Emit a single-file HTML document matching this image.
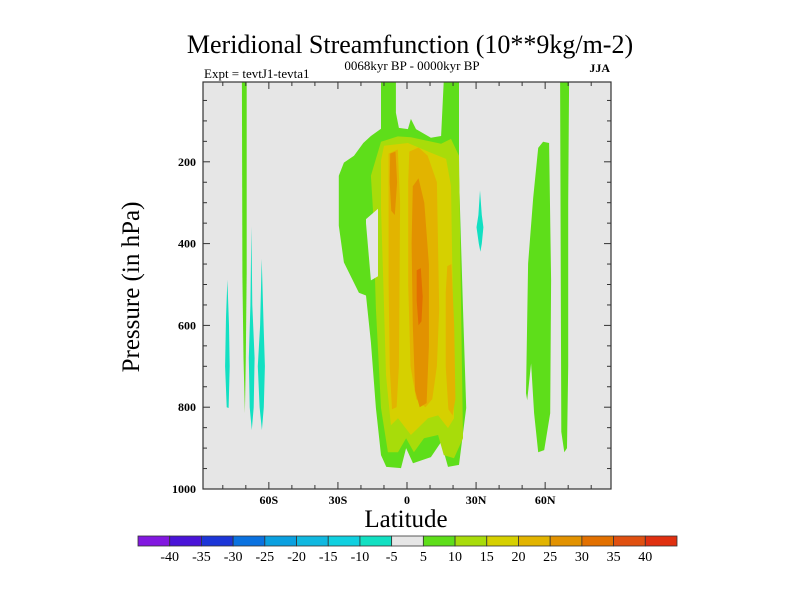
<!DOCTYPE html>
<html><head><meta charset="utf-8"><style>
html,body{margin:0;padding:0;background:#fff;}
svg{display:block;font-family:"Liberation Serif",serif;}
</style></head><body>
<svg id="chart" width="800" height="600" viewBox="0 0 800 600" xmlns="http://www.w3.org/2000/svg">
<defs><clipPath id="plotclip"><rect x="203" y="82" width="408" height="407"/></clipPath></defs>
<text x="410" y="53" font-size="26" text-anchor="middle">Meridional Streamfunction (10**9kg/m-2)</text>
<text x="412" y="70" font-size="13" text-anchor="middle">0068kyr BP - 0000kyr BP</text>
<text x="204" y="78" font-size="13">Expt = tevtJ1-tevta1</text>
<text x="610" y="72" font-size="12" font-weight="bold" text-anchor="end">JJA</text>
<rect x="203" y="82" width="408" height="407" fill="#e6e6e6"/>
<g id="contours" clip-path="url(#plotclip)"></g>
<rect x="203" y="82" width="408" height="407" fill="none" stroke="#333" stroke-width="1.2"/>
<g id="axes"></g>
<text x="406" y="527" font-size="25" text-anchor="middle">Latitude</text>
<text transform="translate(139,287) rotate(-90)" font-size="25" text-anchor="middle">Pressure (in hPa)</text>
<g id="colorbar"></g>
</svg>
<script>
// ---- data ----
const latTicks = [-60, -30, 0, 30, 60];
const latTickLabels = ["60S", "30S", "0", "30N", "60N"];
const presTicks = [200, 400, 600, 800, 1000];
const levelBounds = [-40,-35,-30,-25,-20,-15,-10,-5,5,10,15,20,25,30,35,40];
const levelColors = ["#8218e0","#4a14d8","#1c36d8","#0a72e0","#0aa0e0","#10b8e0","#10d0e0","#12e0c2","#e6e6e6","#5ede1a","#a8dc0a","#d6d000","#e2b400","#e29200","#e27000","#e05010","#e03010"];
// contour regions: value level (0 = background hole) and outline in (latitude, pressure hPa)
const regionLevels = [5, -9, 10, 15, 20, 20, 20, 25, 25, 30, 5, 5, 5, -9, -9, -9, 0];
const regionPaths = [
 [[-11.3,0],[-11.3,119],[-15.7,137],[-19,154],[-23,185],[-27.4,202],[-29.6,234],[-29.6,356],[-27.4,446],[-20.9,520],[-17.8,527],[-15.7,641],[-13.5,802],[-11.3,917],[-9,946],[-2.6,949],[-0.4,900],[2.6,937],[10.4,922],[14.8,885],[17.8,946],[22.6,941],[25.7,802],[24.3,559],[22.6,234],[22.6,0],[16,0],[14.8,137],[10.4,141],[3.9,120],[1.7,95],[0.4,120],[-3.5,117],[-4.8,80],[-4.8,0]],
 [[31.7,270],[32.5,330],[33.2,360],[32.5,400],[31.9,420],[31.2,400],[30.2,360],[31,330]],
 [[-11.3,151],[-4,138],[1.7,140],[14.8,156],[19.1,144],[22.6,185],[23.5,559],[24.3,876],[20.4,925],[16,917],[13.5,868],[7.4,876],[3,910],[-0.4,876],[-3.9,910],[-8.3,910],[-11.3,802],[-13.5,559],[-14.8,315],[-15.7,234]],
 [[-10,161],[0.4,154],[10.4,178],[17,193],[19.1,259],[20,559],[20.4,827],[17.8,851],[13.5,820],[9.1,827],[1.7,868],[-3.9,827],[-7,844],[-9.1,722],[-10.4,478],[-11.3,315],[-11.3,197]],
 [[-8,180],[-4,170],[-3,300],[-3.5,700],[-4.5,800],[-6.5,805],[-7.5,700],[-8,500]],
 [[1,175],[5,165],[9,185],[13,250],[14,560],[13,700],[11,780],[8,800],[4,780],[1.5,700],[0.5,500],[0.5,250]],
 [[17.5,455],[19.3,450],[20.5,600],[21,780],[19.8,820],[18,805],[16.8,700],[16.8,520]],
 [[2.5,260],[5,240],[7.5,300],[9.5,450],[9.5,650],[8.5,790],[5.5,800],[3.5,760],[2.5,600],[2,400]],
 [[-7.3,180],[-5,175],[-4.3,250],[-5.3,330],[-6.8,320],[-7.5,250]],
 [[4.2,465],[6,460],[6.8,530],[6.3,590],[5,600],[4.2,540]],
 [[-71.7,0],[-69.6,0],[-69.6,470],[-70,680],[-70.4,815],[-71,680],[-71.5,480]],
 [[57,166],[59.1,151],[61.7,154],[62.6,490],[62.2,815],[59.6,905],[57,910],[55.2,815],[53.9,693],[52.2,783],[51.7,766],[52.6,449],[54.8,288]],
 [[66.5,0],[70.4,0],[70,300],[70,700],[69.5,900],[68.3,910],[67,860],[66.8,500]],
 [[-78,488],[-77.3,600],[-77,700],[-77.5,802],[-78.3,800],[-79,700],[-78.6,580]],
 [[-67.6,358],[-67.2,550],[-66.2,680],[-66.6,800],[-67.4,856],[-68.3,800],[-68.7,680],[-68,550]],
 [[-63.1,437],[-62.3,600],[-61.7,700],[-62.2,800],[-63,856],[-64,800],[-64.8,700],[-63.8,600]],
 [[-17.8,340],[-12.6,315],[-12.6,480],[-15.7,490],[-17.8,350]]
];
// ---- scales ----
const X0=203, X1=611, Y0=489, Y1=82;
const LATMIN=-88.6, LATMAX=88.6;
function xScale(lat){ return X0 + (lat-LATMIN)/(LATMAX-LATMIN)*(X1-X0); }
function yScale(p){ return 489 - (1000-p)*0.409; }
function colorFor(v){
  if (v===0) return "#e6e6e6";
  let i=0; while(i<levelBounds.length && v>=levelBounds[i]) i++;
  return levelColors[i];
}
const NS="http://www.w3.org/2000/svg";
function mk(tag, attrs, parent){ const e=document.createElementNS(NS,tag); for(const k in attrs) e.setAttribute(k,attrs[k]); parent.appendChild(e); return e; }
const cg=document.getElementById('contours');
regionPaths.forEach((pts,i)=>{
  const d = pts.map((q,j)=>(j?'L':'M')+xScale(q[0]).toFixed(1)+' '+yScale(q[1]).toFixed(1)).join(' ')+'Z';
  const el=mk('path',{d:d,fill:colorFor(regionLevels[i])},cg);
  
  
});
// ---- axes ----
const ax=document.getElementById('axes');
for(let lat=-80; lat<=80; lat+=10){
  const x=xScale(lat), major = lat%30===0;
  const len = major?7:4;
  const t1=mk('line',{x1:x,y1:Y0,x2:x,y2:Y0-len,stroke:'#333','stroke-width':1},ax);
  
  
  const t2=mk('line',{x1:x,y1:Y1,x2:x,y2:Y1+len,stroke:'#333','stroke-width':1},ax);
  
  
}
latTicks.forEach((lat,i)=>{
  const t=mk('text',{x:xScale(lat),y:504,'font-size':12,'font-weight':'bold','text-anchor':'middle'},ax);
  t.textContent=latTickLabels[i];
  
  
});
for(let p=50; p<=1000; p+=50){
  const y=yScale(p), major=p%200===0;
  const len=major?7:4;
  const a=mk('line',{x1:X0,y1:y,x2:X0+len,y2:y,stroke:'#333','stroke-width':1},ax);
  
  
  const b=mk('line',{x1:X1,y1:y,x2:X1-len,y2:y,stroke:'#333','stroke-width':1},ax);
  
  
}
presTicks.forEach(p=>{
  const t=mk('text',{x:196,y:yScale(p)+4,'font-size':12,'font-weight':'bold','text-anchor':'end'},ax);
  t.textContent=String(p);
  
  
});
// ---- colorbar ----
const cb=document.getElementById('colorbar');
const CB0=138, CB1=677, n=levelColors.length, w=(CB1-CB0)/n;
levelColors.forEach((c,i)=>{
  const r=mk('rect',{x:CB0+i*w,y:536,width:w,height:10,fill:c,stroke:'#333','stroke-width':0.8},cb);
  
  
});
levelBounds.forEach((v,i)=>{
  const t=mk('text',{x:CB0+(i+1)*w,y:561,'font-size':14,'text-anchor':'middle'},cb);
  t.textContent=String(v);
  
  
});
</script>
</body></html>
